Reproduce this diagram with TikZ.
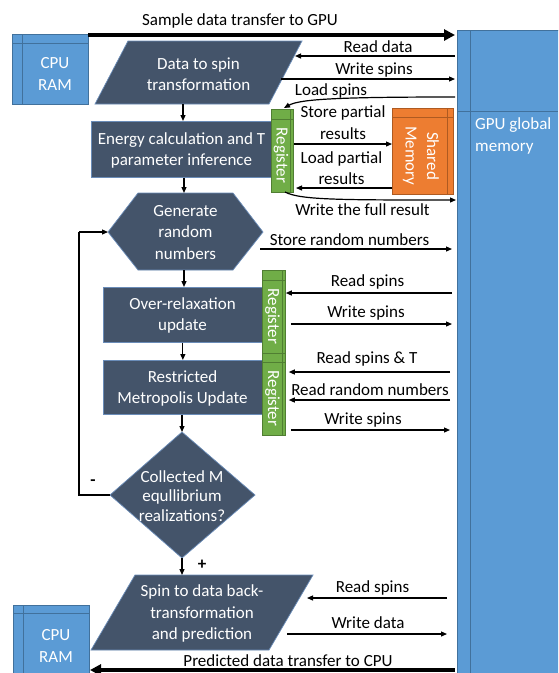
\documentclass[tikz,border=0pt]{standalone}
\usepackage{fontspec}
\setmainfont{Carlito}
\usetikzlibrary{arrows.meta}
\definecolor{dk}{HTML}{44546A}
\definecolor{edge}{HTML}{6A8CB8}
\definecolor{bl}{HTML}{5B9BD5}
\definecolor{blb}{HTML}{41719C}
\definecolor{gr}{HTML}{70AD47}
\definecolor{grb}{HTML}{507E32}
\definecolor{orc}{HTML}{ED7D31}
\definecolor{orb}{HTML}{AE5A21}
\begin{document}
\begin{tikzpicture}[x=1pt,y=-1pt,
  font=\fontsize{17}{21.5}\selectfont,
  thinarr/.style={line width=1.2pt,-{Triangle[length=6pt,width=5pt]}},
  thickarr/.style={line width=3.4pt,-{Triangle[length=11pt,width=11pt]}},
  lbl/.style={inner sep=0pt, align=center},
  wtxt/.style={text=white, inner sep=0pt, align=center},
  proc/.style={fill=dk, draw=edge, line width=0.7pt},
  mem/.style={fill=bl, draw=blb, line width=0.8pt, inner sep=0pt, anchor=north west},
  reg/.style={fill=gr, draw=grb, line width=0.8pt, inner sep=0pt, anchor=north west},
  shm/.style={fill=orc, draw=orb, line width=0.8pt, inner sep=0pt, anchor=north west},
  procbox/.style={proc, inner sep=0pt, anchor=north west},
]
\useasboundingbox (0,0) rectangle (558,673);
\clip (0,0) rectangle (558,673);
\fill[white] (0,0) rectangle (558,673);

% GPU global memory
\node[mem, minimum width=120pt, minimum height=680pt] (gpu) at (457,30) {};
\draw[blb, line width=0.8pt] (470,30) -- (470,673);
\draw[blb, line width=0.8pt] (457,111) -- (558,111);
\node[wtxt, anchor=west, align=left] (gputxt) at (475,136) {GPU global\\memory};

% CPU RAM top
\node[mem, minimum width=76pt, minimum height=70pt] (cpuA) at (12,34) {};
\draw[blb, line width=0.8pt] (22,34) -- (22,104);
\draw[blb, line width=0.8pt] (12,43) -- (88,43);
\node[wtxt] (cpuAtxt) at (55,74) {CPU\\RAM};

% CPU RAM bottom
\node[mem, minimum width=76pt, minimum height=90pt] (cpuB) at (13,605) {};
\draw[blb, line width=0.8pt] (23,605) -- (23,673);
\draw[blb, line width=0.8pt] (13,613) -- (89,613);
\node[wtxt] (cpuBtxt) at (56,646) {CPU\\RAM};

% Data to spin transformation
\draw[proc] (128,41) -- (302,41) -- (269,104) -- (95,104) -- cycle;
\node[wtxt] (p1) at (198.5,74) {Data to spin\\transformation};
\coordinate (p1b) at (183,104);
\coordinate (p1r1) at (295,56);
\coordinate (p1r2) at (281,79);

% Energy calculation
\node[procbox, minimum width=181pt, minimum height=56pt] (energy) at (91,121) {};
\node[wtxt] (energytxt) at (181.5,150.5) {Energy calculation and T\\parameter inference};

% Register 1
\node[reg, minimum width=22pt, minimum height=83pt] (reg1) at (271,109) {};
\draw[grb, line width=0.8pt] (290,109) -- (290,192);
\draw[grb, line width=0.8pt] (271,119) -- (293,119);
\node[wtxt, rotate=-90] (reg1txt) at (281,155.5) {Register};

% Shared memory
\node[shm, minimum width=61pt, minimum height=86pt] (shm) at (392,108) {};
\draw[orb, line width=0.8pt] (447,108) -- (447,194);
\draw[orb, line width=0.8pt] (392,117) -- (453,117);
\node[wtxt, rotate=-90] (shmtxt) at (421,156) {Shared\\Memory};

% Generate random numbers (hexagon)
\draw[proc] (108,232) -- (138,193) -- (233,193) -- (263,232) -- (233,270) -- (138,270) -- cycle;
\node[wtxt] (hex) at (185.5,232.5) {Generate\\random\\numbers};
\coordinate (hexT) at (184,193);
\coordinate (hexB) at (184,270);
\coordinate (hexL) at (108,232);
\coordinate (hexR) at (260,249);

% Over-relaxation
\node[procbox, minimum width=159pt, minimum height=55pt] (over) at (103,287) {};
\node[wtxt] (overtxt) at (182.5,315.5) {Over-relaxation\\update};

% Restricted Metropolis
\node[procbox, minimum width=159pt, minimum height=54pt] (metro) at (103,360) {};
\node[wtxt] (metrotxt) at (182.5,388.5) {Restricted\\Metropolis Update};

% Registers 2 and 3
\node[reg, minimum width=23pt, minimum height=83pt] (reg2) at (262,270) {};
\draw[grb, line width=0.8pt] (282,270) -- (282,353);
\draw[grb, line width=0.8pt] (262,280) -- (285,280);
\node[wtxt, rotate=-90] (reg2txt) at (272.5,316.5) {Register};
\node[reg, minimum width=23pt, minimum height=82pt] (reg3) at (262,353) {};
\draw[grb, line width=0.8pt] (282,353) -- (282,435);
\draw[grb, line width=0.8pt] (262,362) -- (285,362);
\node[wtxt, rotate=-90] (reg3txt) at (272.5,398.5) {Register};

% Decision diamond
\draw[proc] (182,432) -- (255,495) -- (182,558) -- (110,495) -- cycle;
\node[wtxt, font=\fontsize{17}{19.8}\selectfont] (dec) at (182,496) {Collected M\\equllibrium\\realizations?};
\coordinate (decT) at (182,432);
\coordinate (decB) at (182,558);
\coordinate (decL) at (110,495);
\coordinate (loopA) at (79,495);
\coordinate (loopB) at (79,232);

% Spin to data back-transformation
\draw[proc] (135,575) -- (313,575) -- (269,650) -- (91,650) -- cycle;
\node[wtxt] (p2) at (202,613.5) {Spin to data back-\\transformation\\and prediction};
\coordinate (p2T) at (182,575);
\coordinate (p2r1) at (307,598);
\coordinate (p2r2) at (287,634);

% GPU side coordinates
\coordinate (g0) at (455,35);
\coordinate (g1) at (455,56);
\coordinate (g2) at (455,79);
\coordinate (g3) at (455,97);
\coordinate (g4) at (456,200);
\coordinate (g5) at (452,249);
\coordinate (g6) at (452,293);
\coordinate (g7) at (452,324);
\coordinate (g8) at (450,372);
\coordinate (g9) at (450,400);
\coordinate (g10) at (450,430);
\coordinate (g11) at (447,598);
\coordinate (g12) at (447,634);
\coordinate (g13) at (455,670);
\coordinate (cpuBr) at (90,670);
\coordinate (cpuAr) at (88,35);

% Flow arrows
\draw[thinarr] (p1b) -- (p1b |- energy.north);
\draw[thinarr] (energy.south -| hexT) -- (hexT);
\draw[thinarr] (hexB) -- (hexB |- over.north);
\draw[thinarr] (over.south) -- (metro.north);
\draw[thinarr] (metro.south -| decT) -- (decT);
\draw[thinarr] (decB) -- (p2T);
\draw[line width=1.2pt] (decL) -- (loopA) -- (loopB);
\draw[thinarr] (loopB) -- (hexL);
\node[lbl, font=\fontsize{17}{20}\selectfont\bfseries] (minus) at (93,483) {-};
\node[lbl, font=\fontsize{17}{20}\selectfont\bfseries] (plus) at (202,565) {+};

% Transfers
\draw[thickarr] (cpuAr) -- (g0);
\node[lbl] (t1) at (240,21) {Sample data transfer to GPU};
\draw[thickarr] (g13) -- (cpuBr);
\node[lbl] (t2) at (288,661) {Predicted data transfer to CPU};

% Memory access arrows
\draw[thinarr] (g1) -- (p1r1);
\node[lbl] at (378,47) {Read data};
\draw[thinarr] (p1r2) -- (g2);
\node[lbl] at (374,70) {Write spins};
\draw[thinarr] (g3) .. controls (340,97) and (300,99) .. (284,108);
\node[lbl] at (331,91) {Load spins};
\draw[thinarr] (reg1.east |- 0,144) -- (shm.west |- 0,144);
\node[lbl] at (343,122.5) {Store partial\\results};
\draw[thinarr] (shm.west |- 0,188) -- (296,188);
\node[lbl] at (341.5,168) {Load partial\\results};
\draw[thinarr] (285,192) .. controls (300,200) and (340,200) .. (g4);
\node[lbl] at (362.5,210) {Write the full result};
\draw[thinarr] (hexR) -- (g5);
\node[lbl] at (349.5,240) {Store random numbers};
\draw[thinarr] (g6) -- (reg2.east |- g6);
\node[lbl] at (367.5,282) {Read spins};
\draw[thinarr] (reg2.east |- g7) ++(5,0) -- (g7);
\node[lbl] at (366,313) {Write spins};
\draw[thinarr] (g8) -- ([xshift=3pt]reg3.east |- g8);
\node[lbl] at (367,358.5) {Read spins \& T};
\draw[thinarr] (g9) -- ([xshift=3pt]reg3.east |- g9);
\node[lbl] at (370,390) {Read random numbers};
\draw[thinarr] ([xshift=5pt]reg3.east |- g10) -- (g10);
\node[lbl] at (363,420.5) {Write spins};
\draw[thinarr] (g11) -- (p2r1);
\node[lbl] at (372.5,587.5) {Read spins};
\draw[thinarr] (p2r2) -- (g12);
\node[lbl] at (368,623) {Write data};
\end{tikzpicture}
\end{document}
